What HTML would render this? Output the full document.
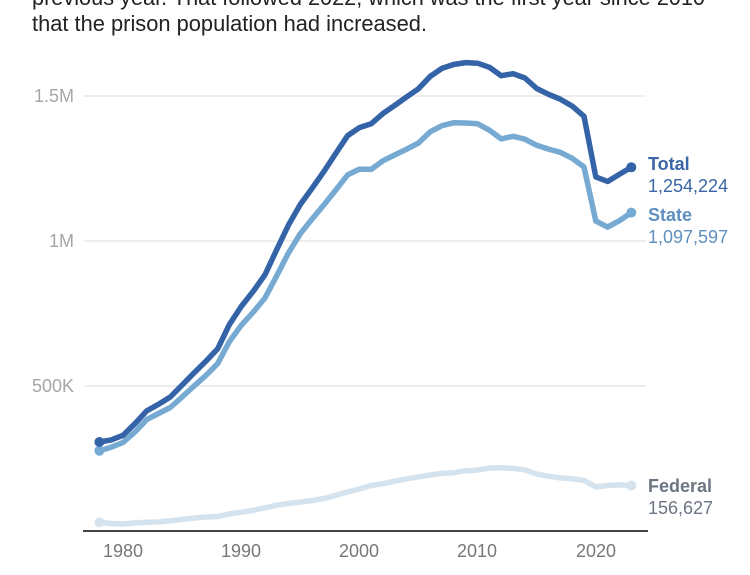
<!DOCTYPE html>
<html>
<head>
<meta charset="utf-8">
<style>
html,body{margin:0;padding:0;background:#fff;}
body{width:750px;height:575px;overflow:hidden;}
svg{display:block;}
text{font-family:"Liberation Sans",Arial,sans-serif;}
</style>
</head>
<body>
<svg width="750" height="575" viewBox="0 0 750 575" xmlns="http://www.w3.org/2000/svg">
  <!-- intro text -->
  <text x="32" y="5" font-size="22" fill="#222" textLength="673" lengthAdjust="spacingAndGlyphs">previous year. That followed 2022, which was the first year since 2010</text>
  <text x="32" y="31" font-size="22" fill="#222" textLength="395" lengthAdjust="spacingAndGlyphs">that the prison population had increased.</text>

  <!-- gridlines -->
  <g stroke="#e8e8e8" stroke-width="1.5">
    <line x1="84" y1="96" x2="646" y2="96"/>
    <line x1="84" y1="241" x2="646" y2="241"/>
    <line x1="84" y1="386" x2="646" y2="386"/>
  </g>
  <!-- y labels -->
  <g font-size="18" fill="#a6a6a6" text-anchor="end">
    <text x="74" y="102">1.5M</text>
    <text x="74" y="247">1M</text>
    <text x="74" y="392">500K</text>
  </g>

  <!-- axis -->
  <line x1="83" y1="531" x2="648" y2="531" stroke="#444" stroke-width="2"/>
  <g font-size="18" fill="#777" text-anchor="middle">
    <text x="123" y="557">1980</text>
    <text x="241" y="557">1990</text>
    <text x="359" y="557">2000</text>
    <text x="477" y="557">2010</text>
    <text x="596" y="557">2020</text>
  </g>

  <!-- Federal -->
  <polyline fill="none" stroke="#d5e3ef" stroke-width="5.5" stroke-linejoin="round" stroke-linecap="round"
    points="99.4,522.3 111.2,523.5 123.0,524.0 134.9,522.9 146.7,522.3 158.5,522.0 170.3,520.9 182.1,519.4 194.0,518.0 205.8,517.1 217.6,516.5 229.4,513.9 241.2,512.2 253.1,510.4 264.9,507.8 276.7,505.2 288.5,503.5 300.3,502.0 312.1,500.6 324.0,498.5 335.8,495.3 347.6,491.9 359.4,489.0 371.2,485.5 383.1,483.7 394.9,481.1 406.7,478.8 418.5,476.8 430.3,475.0 442.2,473.3 454.0,472.7 465.8,470.7 477.6,470.1 489.4,468.1 501.2,467.8 513.1,468.4 524.9,469.8 536.7,474.2 548.5,476.2 560.3,477.9 572.2,478.8 584.0,480.3 595.8,486.9 607.6,485.5 619.4,484.9 631.3,485.5"/>
  <circle cx="99.4" cy="522.3" r="5" fill="#d5e3ef"/>
  <circle cx="631.3" cy="485.5" r="5" fill="#d5e3ef"/>

  <!-- State -->
  <polyline fill="none" stroke="#76aad2" stroke-width="5.5" stroke-linejoin="round" stroke-linecap="round"
    points="99.4,450.7 111.2,447.2 123.0,442.5 134.9,432.1 146.7,419.6 158.5,413.5 170.3,407.5 182.1,397.0 194.0,386.0 205.8,375.6 217.6,363.7 229.4,341.6 241.2,325.4 253.1,312.3 264.9,298.1 276.7,275.8 288.5,252.9 300.3,233.7 312.1,219.0 324.0,204.7 335.8,190.0 347.6,174.9 359.4,169.1 371.2,169.4 383.1,160.7 394.9,154.9 406.7,149.1 418.5,143.0 430.3,131.7 442.2,125.6 454.0,122.7 465.8,123.0 477.6,123.8 489.4,130.2 501.2,138.9 513.1,136.3 524.9,139.2 536.7,145.3 548.5,149.1 560.3,152.3 572.2,158.3 584.0,167.0 595.8,221.0 607.6,227.1 619.4,220.7 631.3,212.6"/>
  <circle cx="99.4" cy="450.7" r="5" fill="#76aad2"/>
  <circle cx="631.3" cy="212.6" r="5" fill="#76aad2"/>

  <!-- Total -->
  <polyline fill="none" stroke="#3463a8" stroke-width="5.5" stroke-linejoin="round" stroke-linecap="round"
    points="99.4,442.0 111.2,439.9 123.0,435.3 134.9,423.7 146.7,410.9 158.5,404.3 170.3,397.0 182.1,385.1 194.0,372.9 205.8,361.3 217.6,348.9 229.4,324.5 241.2,306.5 253.1,291.5 264.9,274.9 276.7,249.7 288.5,225.0 300.3,204.5 312.1,188.2 324.0,171.4 335.8,153.4 347.6,135.7 359.4,127.6 371.2,123.8 383.1,113.4 394.9,105.3 406.7,96.9 418.5,88.7 430.3,76.3 442.2,68.2 454.0,64.4 465.8,62.6 477.6,63.2 489.4,67.3 501.2,75.7 513.1,73.7 524.9,78.0 536.7,88.5 548.5,94.3 560.3,99.2 572.2,106.1 584.0,116.3 595.8,176.9 607.6,181.5 619.4,174.3 631.3,167.3"/>
  <circle cx="99.4" cy="442.0" r="5" fill="#3463a8"/>
  <circle cx="631.3" cy="167.3" r="5" fill="#3463a8"/>

  <!-- end labels -->
  <g font-size="18">
    <text x="648" y="170" font-weight="bold" fill="#3a66a8">Total</text>
    <text x="648" y="192" fill="#3a66a8">1,254,224</text>
    <text x="648" y="221" font-weight="bold" fill="#5f8fbf">State</text>
    <text x="648" y="243" fill="#5f8fbf">1,097,597</text>
    <text x="648" y="492" font-weight="bold" fill="#6b7682">Federal</text>
    <text x="648" y="514" fill="#6b7682">156,627</text>
  </g>
</svg>
</body>
</html>
